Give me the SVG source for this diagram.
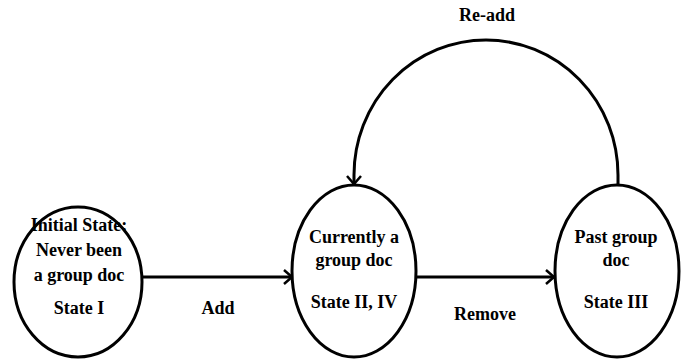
<svg xmlns="http://www.w3.org/2000/svg" width="688" height="360" viewBox="0 0 688 360">
<defs>
<style>
.node ellipse{fill:#fff;stroke:#000;stroke-width:3}
text{font-family:"Liberation Serif","Times New Roman",serif;font-weight:bold;font-size:18px;fill:#000;text-anchor:middle}
.conn path{fill:none;stroke:#000;stroke-width:3}
</style>
<marker id="arr" markerUnits="userSpaceOnUse" markerWidth="20" markerHeight="20" refX="10" refY="10" orient="auto" overflow="visible">
<path d="M2,3 L10,10 L2,17" fill="none" stroke="#000" stroke-width="2.5"/>
</marker>
</defs>
<rect width="688" height="360" fill="#fff"/>
<g id="connectors" class="conn">
<path d="M142,277 L292,277" marker-end="url(#arr)"/>
<path d="M416,277 L554,277" marker-end="url(#arr)"/>
<path d="M618,185 L618,175 A132,135 0 0 0 354,175 L354,184" marker-end="url(#arr)"/>
</g>
<g id="state1" class="node">
<ellipse cx="78" cy="282" rx="64" ry="75"/>
<text x="79" y="231">Initial State:</text>
<text x="79" y="256">Never been</text>
<text x="79" y="281">a group doc</text>
<text x="79" y="314">State I</text>
</g>
<g id="state2" class="node">
<ellipse cx="354" cy="271" rx="62" ry="86"/>
<text x="354" y="243">Currently a</text>
<text x="354" y="266">group doc</text>
<text x="354" y="308">State II, IV</text>
</g>
<g id="state3" class="node">
<ellipse cx="617" cy="271" rx="62" ry="86"/>
<text x="616" y="243">Past group</text>
<text x="616" y="266">doc</text>
<text x="616" y="308">State III</text>
</g>
<g id="labels">
<text x="218" y="314">Add</text>
<text x="485" y="320">Remove</text>
<text x="487" y="21">Re-add</text>
</g>
</svg>
